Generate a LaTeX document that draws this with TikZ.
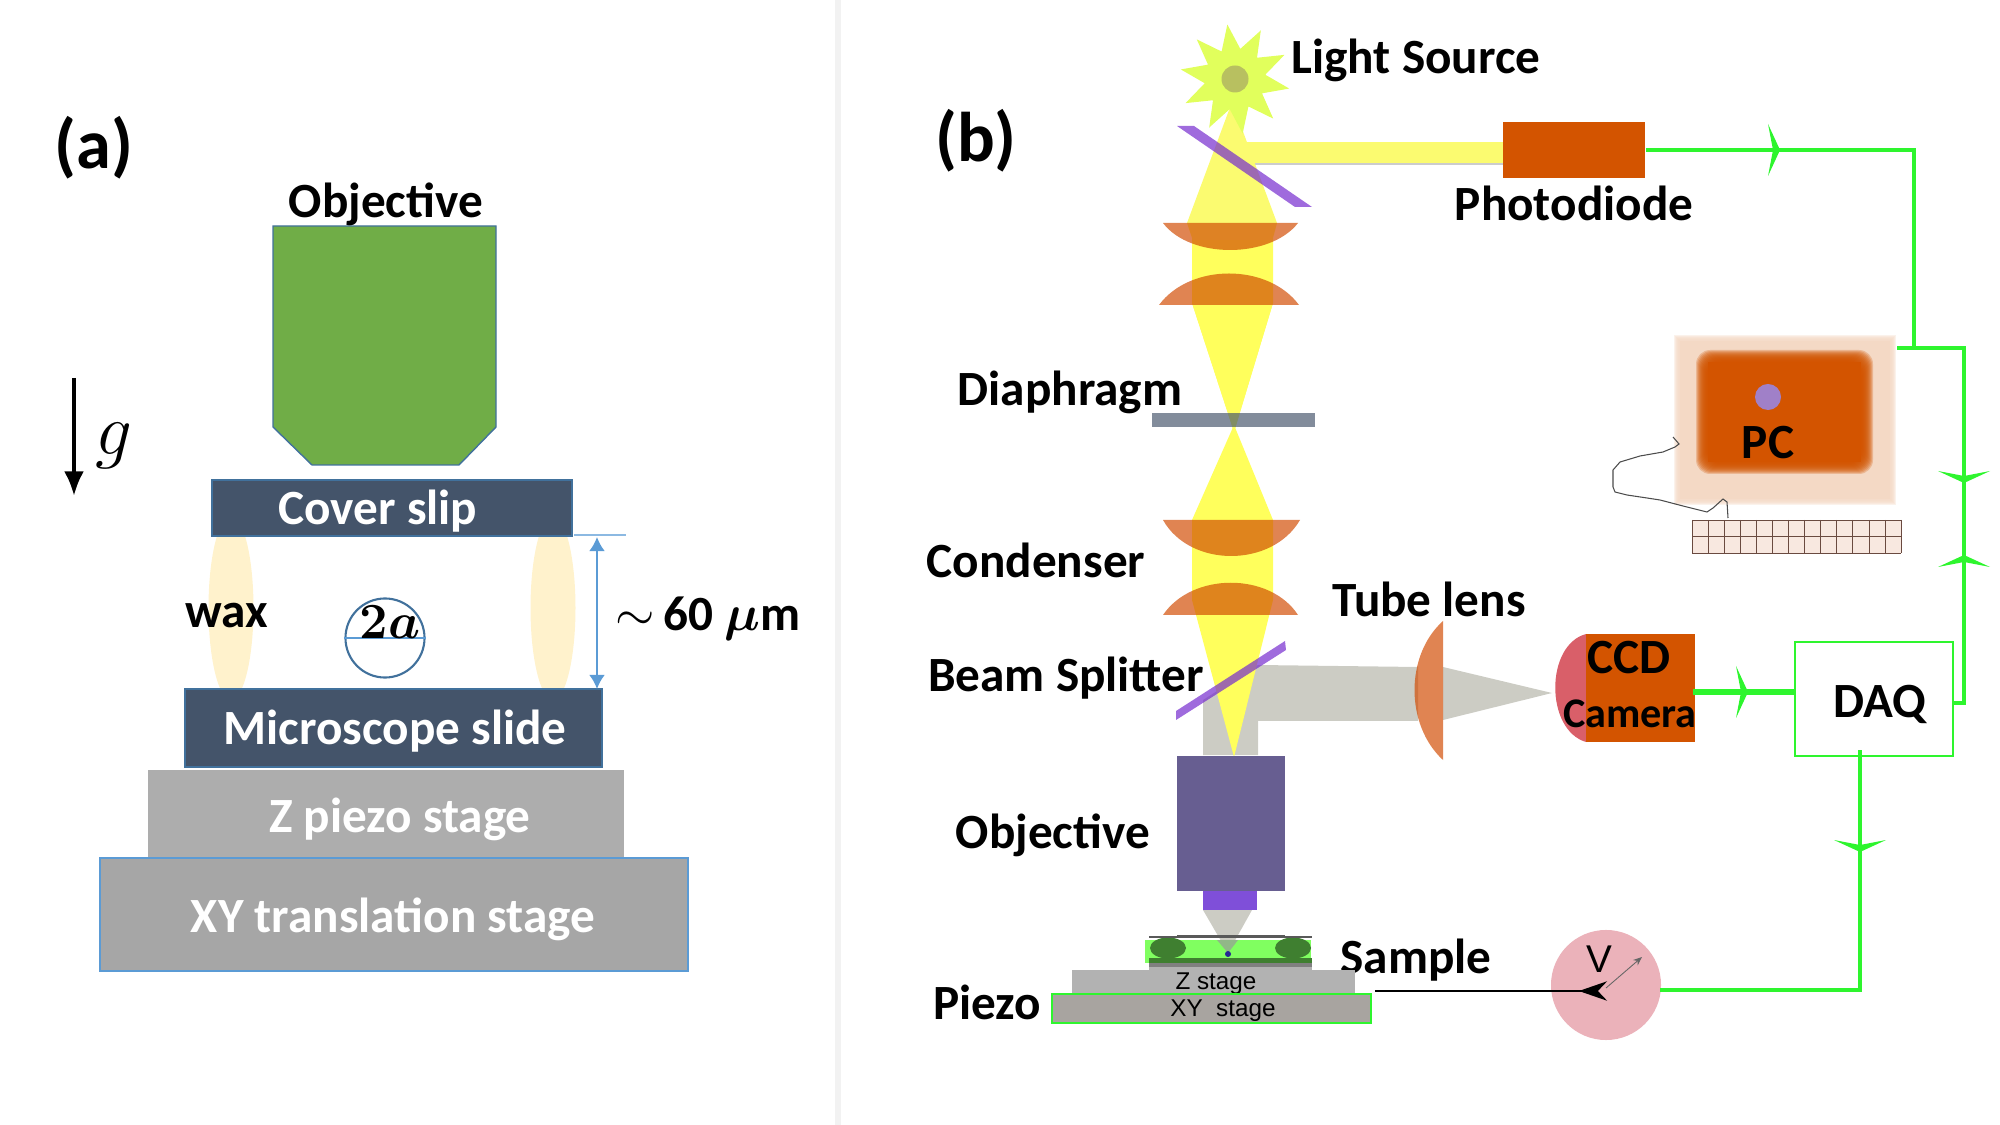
\documentclass[tikz,border=0pt]{standalone}
\usepackage{amsmath}
\usepackage{bm}
\usepackage{fontspec}
\setmainfont{Carlito}
\newfontfamily\stagefont{Liberation Sans}
\usetikzlibrary{positioning,shapes.geometric,arrows.meta}
\definecolor{slate}{HTML}{44546A}
\definecolor{slateedge}{HTML}{41719C}
\definecolor{dimblue}{HTML}{5B9BD5}
\definecolor{waxcol}{HTML}{FFF2CC}
\definecolor{objgreen}{HTML}{70AD47}
\definecolor{lenscol}{HTML}{D14A00}
\definecolor{mirrorcol}{HTML}{762CCF}
\definecolor{beamgrey}{HTML}{CCCCC4}
\definecolor{beamtop}{HTML}{FBFB70}
\definecolor{beamlow}{HTML}{FFFF5C}
\definecolor{wirecol}{HTML}{2EF52E}
\definecolor{blockcol}{HTML}{D35400}
\definecolor{glowcol}{HTML}{F4D9C5}
\definecolor{starcol}{HTML}{E1FF5C}
\definecolor{bulbcol}{HTML}{B8C060}
\definecolor{objbody}{HTML}{675E91}
\definecolor{objtip}{HTML}{7F4FD9}
\definecolor{cellgreen}{HTML}{80FF60}
\definecolor{waxdark}{HTML}{3F7F30}
\definecolor{xycol}{HTML}{A8A4A0}
\definecolor{voltcol}{HTML}{EBB2BA}
\definecolor{ccdred}{HTML}{D95F69}
\definecolor{pcdotcol}{HTML}{A080C8}
\definecolor{keycol}{HTML}{F8E8E0}
\definecolor{keyline}{HTML}{6A4A40}

\begin{document}
\begin{tikzpicture}[
x=0.01cm, y=-0.01cm,
lbl/.style={font=\fontsize{14}{16}\selectfont\bfseries, inner sep=0pt},
whitelbl/.style={lbl, text=white},
panel/.style={font=\fontsize{20}{22}\selectfont\bfseries, inner sep=0pt},
stagelbl/.style={font=\stagefont\fontsize{6.9}{8}\selectfont, inner sep=0pt},
slab/.style={fill=slate, draw=slateedge, line width=0.5pt},
lens/.style={fill=lenscol, fill opacity=0.68},
mirror/.style={fill=mirrorcol, fill opacity=0.7},
block/.style={rectangle, fill=blockcol, inner sep=0pt},
wire/.style={draw=wirecol, line width=1.2pt},
chevron/.pic={\fill[wirecol] (-26,-12) -- (0,0) -- (26,-12) -- (0,-7) -- cycle;},
]
\useasboundingbox (0,0) rectangle (2000,1125);

\fill[black!5] (835,0) rectangle (841,1125);

\node[panel] (parta) at (94,148) {(a)};
\node[panel] (partb) at (976,141) {(b)};

% sample cell
\fill[waxcol] (231,608) ellipse (22.5 and 92);
\fill[waxcol] (553,608) ellipse (22.5 and 92);
\draw[fill=objgreen, draw=slateedge, line width=0.4pt] (273,226) -- (496,226) -- (496,427) -- (459,465) -- (312,465) -- (273,427) -- cycle;
\node[lbl] (objtop) at (386,204) {Objective};
\draw[slab] (212,480) rectangle (572,536);
\draw[slab] (185,689) rectangle (602,767);
\fill[black!32] (148,770) rectangle (624,858);
\draw[fill=black!35, draw=dimblue, line width=0.3pt] (100,858) rectangle (688,971);
\node[whitelbl] (cover) at (378,511) {Cover slip};
\node[whitelbl] (slide) at (395,731) {Microscope slide};
\node[whitelbl] (zpiezo) at (400,819) {Z piezo stage};
\node[whitelbl] (xytrans) at (393,919) {XY translation stage};
\node[lbl] (wax) at (227,616) {wax};
\node[circle, draw=slateedge, line width=0.6pt, minimum size=0.79cm, inner sep=0pt] (bead) at (385,638) {};
\draw[dimblue, line width=0.5pt] (bead.west) -- (bead.east);
\node[lbl] (diam) at (390,622) {$\bm{2a}$};
\coordinate (gaptop) at (626,535);
\coordinate (gapleft) at (574,535);
\draw[dimblue!70, line width=0.4pt] (gapleft) -- (gaptop);
\coordinate (dimtop) at (597,537);
\coordinate (dimbot) at (597,689);
\draw[{Latex[length=4pt,width=4.5pt]}-{Latex[length=4pt,width=4.5pt]}, dimblue, line width=0.6pt] (dimtop) -- (dimbot);
\node[lbl] (gap) at (708,619) {$\sim$\,60 $\bm{\mu}$m};
\coordinate (gtail) at (74,378);
\coordinate (ghead) at (74,496);
\draw[-{Latex[length=7pt,width=5.7pt]}, line width=1.2pt] (gtail) -- (ghead);
\node[inner sep=0pt, font=\fontsize{20}{22}\selectfont] (gravity) at (114,446) {$g$};

% illumination path
\fill[beamgrey] (1203,700) -- (1258,665) -- (1418,667) -- (1418,721) -- (1258,721) -- (1258,755) -- (1203,755) -- cycle;
\fill[beamgrey] (1443,667) -- (1552,693) -- (1443,720) -- cycle;
\fill[beamtop] (1247,142) rectangle (1503,164);
\draw[black!20, line width=0.3pt] (1255,164) -- (1503,164);
\fill[beamtop] (1232,102) -- (1187,223) -- (1192,238) -- (1192,303) -- (1234,432) -- (1273,303) -- (1273,238) -- (1277,223) -- cycle;
\fill[beamlow] (1192,240) rectangle (1273,303);
\fill[beamlow] (1192,303) -- (1234,432) -- (1273,303) -- cycle;
\fill[beamlow] (1234,425) -- (1192,520) -- (1192,600) -- (1234,757) -- (1273,600) -- (1273,520) -- cycle;
\fill[lens] (1163,223) .. controls (1190,259) and (1270,259) .. (1298,223) -- cycle;
\fill[lens] (1159,305) .. controls (1190,263) and (1268,263) .. (1299,305) -- cycle;
\fill[lens] (1163,520) .. controls (1190,568) and (1272,568) .. (1300,520) -- cycle;
\fill[lens] (1163,615) .. controls (1192,572) and (1270,572) .. (1298,615) -- cycle;
\fill[slate, fill opacity=0.67] (1152,413) rectangle (1315,427);
\fill[mirror] (1177,126) -- (1194,126) -- (1312,207) -- (1295,207) -- cycle;
\fill[mirror] (1176,711) -- (1285,641) -- (1286,650) -- (1176,720) -- cycle;
\fill[lens] (1443,621) .. controls (1405,655) and (1405,725) .. (1443,760) -- cycle;

% light source
\node[star, star points=10, star point ratio=1.8, minimum size=1.1cm, inner sep=0pt, fill=starcol, rotate=8] (lamp) at (1235,79) {};
\node[circle, fill=bulbcol, minimum size=0.27cm, inner sep=0pt] (bulb) at (lamp.center) {};
\node[lbl, anchor=west] (lamplabel) at (1291,60) {Light Source};
\node[block, minimum width=1.42cm, minimum height=0.55cm] (photodiode) at (1574,150) {};
\node[lbl, below=0.07cm of photodiode] (photolabel) {Photodiode};
\node[lbl] (diaphragm) at (1070,392) {Diaphragm};
\node[lbl] (condenser) at (1036,560) {Condenser};
\node[lbl] (tubelens) at (1429,599) {Tube lens};
\node[lbl] (splitter) at (1066,678) {Beam Splitter};
\node[lbl] (objlabel) at (1053,835) {Objective};
\node[lbl] (piezo) at (987,1002) {Piezo};
\node[lbl] (samplelabel) at (1416,960) {Sample};

% objective and stages
\fill[objbody] (1177,756) rectangle (1285,891);
\fill[objtip] (1203,891) rectangle (1257,910);
\fill[beamgrey] (1203,910) -- (1252,910) -- (1228,953) -- cycle;
\fill[cellgreen] (1145,940) rectangle (1311,963);
\fill[black!40, fill opacity=0.7] (1217,940) -- (1238,940) -- (1228,953) -- cycle;
\fill[waxdark] (1168,948) ellipse (18 and 10.5);
\fill[waxdark] (1293,948) ellipse (18 and 10.5);
\fill[waxdark] (1149,958) rectangle (1312,963);
\fill[black!50] (1149,963) rectangle (1312,967);
\fill[black!30] (1149,967) rectangle (1312,970);
\draw[black!65, line width=0.4pt] (1149,937) -- (1312,937);
\draw[black!65, line width=0.8pt] (1177,936) -- (1285,936);
\fill[blue!50!black!85!white] (1228,954) circle (3);
\fill[black!30] (1072,970) rectangle (1355,993);
\node[stagelbl] (zstage) at (1216,984) {Z stage};
\draw[fill=xycol, draw=wirecol, line width=0.6pt] (1052,994) rectangle (1371,1023);
\node[stagelbl] (xystage) at (1223,1011) {XY\ \ stage};

% PC
\foreach \d in {3,2,...,-3}
  \fill[glowcol, opacity=0.35] ({1677-\d},{338-\d}) rectangle ({1893+\d},{502+\d});
\fill[glowcol] (1680,341) rectangle (1890,499);
\foreach \d in {6,5,...,-6}
  \fill[blockcol, opacity=0.25, rounded corners=4pt] ({1702-\d},{356-\d}) rectangle ({1867+\d},{468+\d});
\fill[blockcol] (1708,362) rectangle (1861,462);
\node[circle, fill=pcdotcol, minimum size=0.26cm, inner sep=0pt] (pcdot) at (1768,397) {};
\node[lbl] (pc) at (1768,443) {PC};
\draw[black!70, line width=0.3pt] (1673,437) -- (1679,444) -- (1675,447) -- (1663,452) -- (1640,456) -- (1620,462) -- (1613,470) -- (1613,487) -- (1615,492) -- (1627,495) -- (1647,498) -- (1660,500) -- (1683,506) -- (1707,512) -- (1713,508) -- (1723,499) -- (1727,502) -- (1728,518);
\fill[keycol] (1692,520) rectangle (1901,553);
\foreach \i in {0,...,13}
  \draw[keyline, line width=0.2pt] ({1692+\i*16.08},520) -- ({1692+\i*16.08},553);
\foreach \j in {520,536.5,553}
  \draw[keyline, line width=0.2pt] (1692,\j) -- (1901,\j);

% camera and acquisition
\fill[ccdred] (1586,634) .. controls (1545,645) and (1545,730) .. (1586,742) -- cycle;
\node[block, minimum width=1.09cm, minimum height=1.08cm] (camera) at (1640.5,688) {};
\node[lbl] (ccd) at (1629,658) {CCD};
\node[lbl, font=\fontsize{12}{14}\selectfont\bfseries] (camlabel) at (1630,714) {Camera};
\node[rectangle, draw=wirecol, line width=0.8pt, minimum width=1.58cm, minimum height=1.14cm, inner sep=0pt] (daq) at (1874,699) {};
\node[lbl] (daqlabel) at (1880,704) {DAQ};
\node[circle, fill=voltcol, minimum size=1.1cm, inner sep=0pt] (volt) at (1606,985) {};
\node[inner sep=0pt, font=\stagefont\fontsize{11}{12}\selectfont] (voltlabel) at (1599,959) {V};

\coordinate (tap) at (1914,348);
\coordinate (bus) at (1964,348);
\coordinate (pcend) at (1897,348);
\coordinate (daqtap) at (1964,703);
\coordinate (camout) at (1693,692);
\coordinate (daqout) at (1860,750);
\coordinate (voltin) at (1660,990);
\coordinate (samplein) at (1375,991);
\coordinate (needlehub) at (1607,991);
\coordinate (needlebase) at (1606,988);
\coordinate (needletip) at (1642,957);

\draw[wire] (photodiode.east) -| (tap);
\draw[wire] (pcend) -- (bus) -- (daqtap) -- (daqtap -| daq.east);
\draw[wire, line width=1.6pt] (camout) -- (camout -| daq.west);
\draw[wire] (daqout) |- (voltin);
\pic[rotate=90] at (1780,150) {chevron};
\pic at (1964,483) {chevron};
\pic[rotate=180] at (1964,555) {chevron};
\pic[rotate=90] at (1748,692) {chevron};
\pic at (1860,852) {chevron};

\draw[-{Stealth[reversed,length=8pt,width=5.5pt]}, line width=0.6pt] (samplein) -- (needlehub);
\draw[-{Stealth[length=2.5pt,width=2pt]}, black!60, line width=0.25pt] (needlebase) -- (needletip);

\end{tikzpicture}
\end{document}
